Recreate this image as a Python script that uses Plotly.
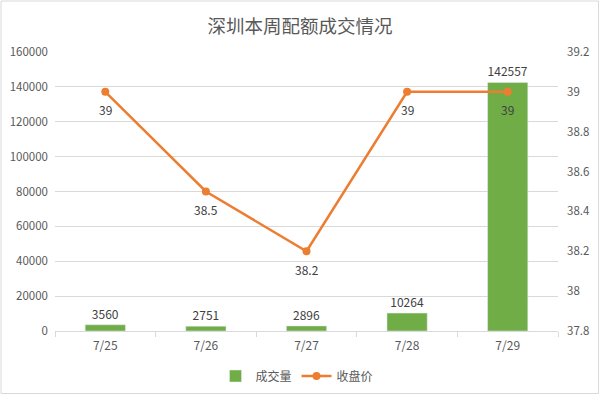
import plotly.graph_objects as go

dates = ["7/25", "7/26", "7/27", "7/28", "7/29"]
volume = [3560, 2751, 2896, 10264, 142557]
price = [39, 38.5, 38.2, 39, 39]

font_family = "Noto Sans CJK SC, Noto Sans, sans-serif"
gray = "#595959"
label_gray = "#404040"

fig = go.Figure()
fig.add_trace(go.Bar(
    x=dates, y=volume, name="成交量",
    marker=dict(color="#70AD47"),
    text=[str(v) for v in volume], textposition="outside",
    textfont=dict(color=label_gray, size=12),
    cliponaxis=False, width=0.4,
))
fig.add_trace(go.Scatter(
    x=dates, y=price, name="收盘价", yaxis="y2",
    mode="lines+markers",
    line=dict(color="#ED7D31", width=2.5),
    marker=dict(color="#ED7D31", size=8),
    cliponaxis=False,
))

annotations = [
    dict(x=d, y=p, xref="x", yref="y2", text="%g" % p, showarrow=False,
         yshift=-18, font=dict(color=label_gray, size=12))
    for d, p in zip(dates, price)
]

W, H = 600, 395
ml, mr, mt, mb = 55, 42, 52, 64
pw, ph = W - ml - mr, H - mt - mb

fig.update_layout(
    width=W, height=H,
    margin=dict(l=ml, r=mr, t=mt, b=mb, autoexpand=False),
    paper_bgcolor="white", plot_bgcolor="white",
    font=dict(family=font_family, color=gray, size=12),
    title=dict(text="深圳本周配额成交情况", x=0.5, xanchor="center",
               y=1 - 27 / H, yanchor="middle",
               font=dict(size=18.5, color=gray)),
    showlegend=True,
    legend=dict(orientation="h", x=0.495, xanchor="center", xref="container",
                y=(H - 376) / H, yanchor="middle", yref="container",
                font=dict(size=12, color=gray), itemwidth=30,
                traceorder="normal"),
    xaxis=dict(type="category", showgrid=False, showline=True,
               linecolor="#d9d9d9", linewidth=1,
               ticks="outside", tickson="boundaries", ticklen=5,
               tickcolor="#d9d9d9", tickfont=dict(size=12, color=gray),
               automargin=False, ticklabelstandoff=4),
    yaxis=dict(range=[0, 160000], dtick=20000, showgrid=True,
               gridcolor="#d9d9d9", gridwidth=1, zeroline=False,
               showline=False, tickformat="d",
               tickfont=dict(size=11.5, color=gray),
               automargin=False, ticklabelstandoff=6),
    yaxis2=dict(range=[37.8, 39.2], dtick=0.2, overlaying="y", side="right",
                showgrid=False, zeroline=False, showline=False,
                tickformat="~g", tickfont=dict(size=11.5, color=gray),
                automargin=False, ticklabelstandoff=8),
    annotations=annotations,
    shapes=[dict(type="rect", xref="paper", yref="paper",
                 x0=(1 - ml) / pw, x1=(W - 1.5 - ml) / pw,
                 y0=-(mb - 1.5) / ph, y1=1 + (mt - 1) / ph,
                 line=dict(color="#d9d9d9", width=1), layer="below")],
)

fig.write_html("out.html",
               config={"displayModeBar": False},
               post_script="document.body.style.margin='0';document.body.style.overflow='hidden';")
